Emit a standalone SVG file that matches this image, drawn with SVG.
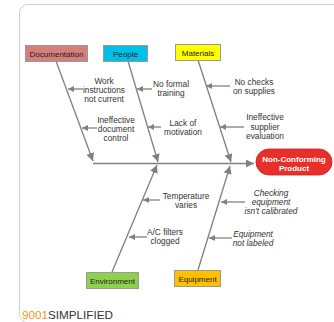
<svg xmlns="http://www.w3.org/2000/svg" width="334" height="322" viewBox="0 0 334 322">
<defs>
<marker id="ah" viewBox="0 0 10 10" refX="10" refY="5" markerWidth="6" markerHeight="6" markerUnits="userSpaceOnUse" orient="auto">
<path d="M0,0 L10,5 L0,10 z" fill="#808080"/>
</marker>
<marker id="ahb" viewBox="0 0 10 10" refX="10" refY="5" markerWidth="8" markerHeight="8" markerUnits="userSpaceOnUse" orient="auto">
<path d="M0,0 L10,5 L0,10 z" fill="#808080"/>
</marker>
</defs>
<style>
.box{stroke:#999;stroke-width:1}
.lbl{font-family:"Liberation Sans",Arial,sans-serif;font-size:8px;fill:#222;text-anchor:middle}
.t{font-family:"Liberation Sans",Arial,sans-serif;font-size:8.3px;fill:#333;text-anchor:middle}
.it{font-style:italic}
.bone{stroke:#808080;stroke-width:1.3;fill:none}
.sub{stroke:#808080;stroke-width:1.3;fill:none;marker-end:url(#ah)}
</style>
<rect x="19.5" y="4.5" width="330" height="318" rx="8" fill="#fff" stroke="#d0d0d0" stroke-width="1"/>
<g id="connectors">
<line class="bone" x1="93" y1="163.5" x2="254" y2="163.5" marker-end="url(#ahb)"/>
<line class="bone" x1="56" y1="61" x2="93" y2="161" marker-end="url(#ahb)"/>
<line class="bone" x1="128" y1="61" x2="158" y2="162" marker-end="url(#ahb)"/>
<line class="bone" x1="198" y1="60" x2="231" y2="162" marker-end="url(#ahb)"/>
<line class="bone" x1="112" y1="272" x2="157" y2="165" marker-end="url(#ahb)"/>
<line class="bone" x1="198" y1="270" x2="230" y2="166" marker-end="url(#ahb)"/>
<line class="sub" x1="83" y1="89" x2="68" y2="89"/>
<line class="sub" x1="97" y1="128" x2="82" y2="128"/>
<line class="sub" x1="152" y1="89" x2="137" y2="89"/>
<line class="sub" x1="161" y1="127" x2="148" y2="127"/>
<line class="sub" x1="230" y1="86" x2="206" y2="86"/>
<line class="sub" x1="244" y1="127" x2="220" y2="127"/>
<line class="sub" x1="160" y1="200" x2="143" y2="200"/>
<line class="sub" x1="147" y1="237" x2="129" y2="237"/>
<line class="sub" x1="245" y1="202" x2="221" y2="202"/>
<line class="sub" x1="232" y1="238" x2="209" y2="238"/>
</g>
<g id="documentation">
<rect class="box" x="25.5" y="45.5" width="62" height="16" fill="#d47f7a"/>
<text class="lbl" x="56.5" y="56.5">Documentation</text>
</g>
<g id="people">
<rect class="box" x="103.5" y="45.5" width="44" height="16" fill="#00bfe8"/>
<text class="lbl" x="125.5" y="56.5">People</text>
</g>
<g id="materials">
<rect class="box" x="175.5" y="44.5" width="45" height="16" fill="#ffff00"/>
<text class="lbl" x="198" y="55.5">Materials</text>
</g>
<g id="environment">
<rect class="box" x="86.5" y="272.5" width="52" height="16" fill="#8fd14f"/>
<text class="lbl" x="112.5" y="283.5">Environment</text>
</g>
<g id="equipment">
<rect class="box" x="174.5" y="270.5" width="46" height="16" fill="#ffc000"/>
<text class="lbl" x="197.5" y="281.5">Equipment</text>
</g>
<g id="effect">
<rect x="256" y="149" width="76" height="26" rx="13" fill="#e8302a" stroke="#c82020" stroke-width="0.8"/>
<text class="lbl" x="294" y="162" style="fill:#fff;font-weight:bold">Non-Conforming</text>
<text class="lbl" x="294" y="171" style="fill:#fff;font-weight:bold">Product</text>
</g>
<g id="causes">
<text class="t" x="104" y="84">Work</text>
<text class="t" x="104" y="93">instructions</text>
<text class="t" x="104" y="102">not current</text>
<text class="t" x="116" y="123">Ineffective</text>
<text class="t" x="116" y="132">document</text>
<text class="t" x="116" y="141">control</text>
<text class="t" x="171" y="87">No formal</text>
<text class="t" x="171" y="96">training</text>
<text class="t" x="183" y="126">Lack of</text>
<text class="t" x="183" y="135">motivation</text>
<text class="t" x="254" y="85">No checks</text>
<text class="t" x="254" y="94">on supplies</text>
<text class="t" x="265" y="120">Ineffective</text>
<text class="t" x="265" y="130">supplier</text>
<text class="t" x="265" y="139">evaluation</text>
<text class="t" x="186" y="199">Temperature</text>
<text class="t" x="186" y="208">varies</text>
<text class="t" x="165" y="235">A/C filters</text>
<text class="t" x="165" y="244">clogged</text>
<text class="t it" x="271" y="196">Checking</text>
<text class="t it" x="271" y="205">equipment</text>
<text class="t it" x="271" y="214">isn't calibrated</text>
<text class="t it" x="253" y="237">Equipment</text>
<text class="t it" x="253" y="246">not labeled</text>
</g>
<text x="22" y="319" font-family="Liberation Sans,Arial,sans-serif" font-size="10.5" textLength="91" lengthAdjust="spacingAndGlyphs"><tspan fill="#f7941d">9001</tspan><tspan fill="#333">SIMPLIFIED</tspan></text>
</svg>
